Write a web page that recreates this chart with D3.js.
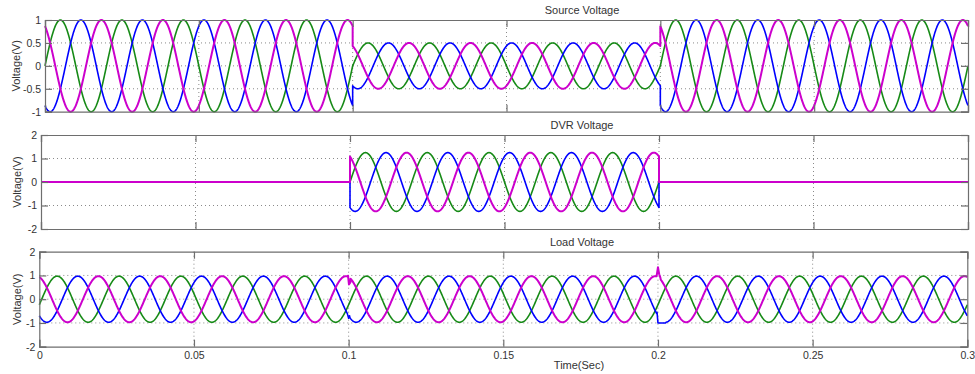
<!DOCTYPE html>
<html>
<head>
<meta charset="utf-8">
<script src="https://cdn.jsdelivr.net/npm/d3@7"></script>
<style>
    body { margin: 0; background: #fff; }
    text { font-family: "Liberation Sans", Arial, sans-serif; }
</style>
</head>
<body>
<svg id="chart" width="975" height="374"></svg>
<script>
// Values (50 Hz, three phases)
const phaseColors = ["#168a16", "#0000ff", "#cc00cc"];   // a, b, c
const phaseWidths = [1.6, 1.6, 2];
const phaseAngles = [0, -120, 120];                      // degrees
const frequency = 50;                                    // Hz
const eventTimes = [0, 0.1, 0.2, 0.3];                   // sag starts at 0.1 s, clears at 0.2 s

const sourceAmps = [1, 0.5, 1];
const dvrAmps = [0, 1.25, 0];
const loadAmps = [0.97, 0.97, 0.97];
const loadShift = -14;                                   // load lags a little (degrees)

// small transients seen on the load trace at the switching instants [t, v]
const loadGlitchB = [[[0.0997, -0.66], [0.1, -0.8], [0.1003, -0.7]],
                     [[0.1997, -0.55], [0.2, -1.0], [0.2025, -1.0]]];
const loadGlitchC = [[[0.0998, 0.99], [0.1001, 0.62], [0.1006, 0.72]],
                     [[0.1996, 1.0], [0.2, 1.35], [0.2004, 1.05], [0.2008, 0.9]]];

const timeTicks = [0, 0.05, 0.1, 0.15, 0.2, 0.25, 0.3];
const panelTitles = ["Source Voltage", "DVR Voltage", "Load Voltage"];
const panelDomains = [[-1, 1], [-2, 2], [-2, 2]];
const panelYTicks = [[-1, -0.5, 0, 0.5, 1], [-2, -1, 0, 1, 2], [-2, -1, 0, 1, 2]];

// pixel boxes of the three axes
const boxes = [
    { left: 45, right: 968, top: 20, bottom: 111.7 },
    { left: 41, right: 968, top: 135, bottom: 229 },
    { left: 39.3, right: 967.3, top: 251.7, bottom: 346.7 }
];

const step = 0.0001;

// build one phase trace, segment by segment, so the jumps at the events stay vertical
const buildTrace = (amps, phase, shift, glitches) => {
    let pts = [];
    for (let s = 0; s < amps.length; s++) {
        const t0 = eventTimes[s], t1 = eventTimes[s + 1];
        const n = Math.round((t1 - t0) / step);
        for (let i = 0; i <= n; i++) {
            const t = t0 + i * step;
            const ang = 2 * Math.PI * frequency * t + (phase + shift) * Math.PI / 180;
            pts.push([t, amps[s] * Math.sin(ang)]);
        }
    }
    (glitches || []).forEach(g => {
        const a = g[0][0], b = g[g.length - 1][0];
        pts = pts.filter(p => p[0] < a || p[0] > b).concat(g);
        pts.sort((p, q) => p[0] - q[0]);
    });
    return pts;
};

const panels = [
    phaseAngles.map(ph => buildTrace(sourceAmps, ph, 0, null)),
    phaseAngles.map(ph => buildTrace(dvrAmps, ph, 0, null)),
    phaseAngles.map((ph, k) => buildTrace(loadAmps, ph, loadShift,
        k === 1 ? loadGlitchB : k === 2 ? loadGlitchC : null))
];

const svg = d3.select("#chart");
const axisColor = "#6e6e6e";

panels.forEach((traces, p) => {
    const b = boxes[p];
    const x = d3.scaleLinear().domain([0, 0.3]).range([b.left, b.right]);
    const y = d3.scaleLinear().domain(panelDomains[p]).range([b.bottom, b.top]);
    const g = svg.append("g");

    // dotted grid
    g.selectAll(".vgrid")
        .data(timeTicks.slice(1, -1))
        .enter().append("line")
        .attr("x1", d => x(d)).attr("x2", d => x(d))
        .attr("y1", b.top).attr("y2", b.bottom)
        .attr("stroke", "#8a8a8a").attr("stroke-width", 1)
        .attr("stroke-dasharray", "1,3");
    g.selectAll(".hgrid")
        .data(panelYTicks[p].slice(1, -1))
        .enter().append("line")
        .attr("x1", b.left).attr("x2", b.right)
        .attr("y1", d => y(d)).attr("y2", d => y(d))
        .attr("stroke", "#8a8a8a").attr("stroke-width", 1)
        .attr("stroke-dasharray", "1,3");

    // traces
    const line = d3.line().x(d => x(d[0])).y(d => y(d[1]));
    traces.forEach((tr, k) => {
        g.append("path")
            .datum(tr)
            .attr("d", line)
            .attr("fill", "none")
            .attr("stroke", phaseColors[k])
            .attr("stroke-width", phaseWidths[k])
            .attr("stroke-linejoin", "round");
    });

    // axes: inward ticks on all four sides, box
    const tick = 7;
    const xb = d3.axisBottom(x).tickValues(timeTicks).tickSize(-tick).tickPadding(5)
        .tickFormat(p === 2 ? d => String(d) : () => "");
    const xt = d3.axisTop(x).tickValues(timeTicks).tickSize(-tick).tickFormat(() => "");
    const yl = d3.axisLeft(y).tickValues(panelYTicks[p]).tickSize(-tick).tickPadding(4)
        .tickFormat(d => String(d));
    const yr = d3.axisRight(y).tickValues(panelYTicks[p]).tickSize(-tick).tickFormat(() => "");

    [[xb, `translate(0,${b.bottom})`], [xt, `translate(0,${b.top})`],
     [yl, `translate(${b.left},0)`], [yr, `translate(${b.right},0)`]].forEach(([ax, tf]) => {
        const a = g.append("g").attr("transform", tf).call(ax);
        a.select(".domain").attr("stroke", axisColor).attr("stroke-width", 1.2);
        a.selectAll(".tick line").attr("stroke", axisColor).attr("stroke-width", 1.2);
        a.selectAll("text").attr("fill", "#333").style("font-size", "10.5px")
            .style("font-family", "'Liberation Sans', Arial, sans-serif");
    });

    // title
    g.append("text")
        .attr("x", 582)
        .attr("y", b.top - 6)
        .attr("text-anchor", "middle")
        .attr("fill", "#333")
        .style("font-size", "11px")
        .text(panelTitles[p]);

    // y label
    g.append("text")
        .attr("transform", `translate(${p === 0 ? 20 : 21},${(b.top + b.bottom) / 2}) rotate(-90)`)
        .attr("text-anchor", "middle")
        .attr("fill", "#333")
        .style("font-size", "11px")
        .text("Voltage(V)");
});

// x label
svg.append("text")
    .attr("x", 579)
    .attr("y", 369)
    .attr("text-anchor", "middle")
    .attr("fill", "#333")
    .style("font-size", "11px")
    .text("Time(Sec)");
</script>
</body>
</html>
